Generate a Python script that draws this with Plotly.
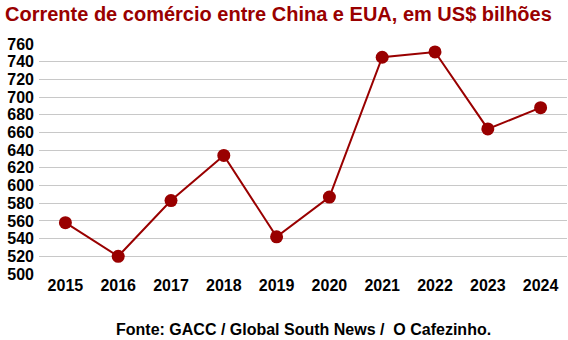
import plotly.graph_objects as go

years = ["2015", "2016", "2017", "2018", "2019", "2020", "2021", "2022", "2023", "2024"]
values = [558, 520, 583, 634, 542, 587, 745, 751, 664, 688]
y_ticks = list(range(500, 761, 20))

red = "#990000"
font = "Liberation Sans, Arial, sans-serif"

fig = go.Figure(go.Scatter(
    x=years, y=values, mode="lines+markers",
    line=dict(color=red, width=2),
    marker=dict(color=red, size=13),
))

fig.update_layout(
    width=568, height=340,
    margin=dict(l=38.5, r=0.5, t=44, b=66),
    paper_bgcolor="white", plot_bgcolor="white",
    showlegend=False,
    title=dict(text="<b>Corrente de comércio entre China e EUA, em US$ bilhões</b>",
               x=5/568, xanchor="left", xref="container", y=1-14/340, yanchor="middle",
               yref="container",
               font=dict(family=font, size=20, color=red)),
    annotations=[dict(text="<b>Fonte: GACC / Global South News /  O Cafezinho.</b>",
                      xref="paper", yref="paper", x=(303-38.5)/529, y=-(329-274)/230,
                      xanchor="center", yanchor="middle", showarrow=False,
                      font=dict(family=font, size=16, color="black"))],
)
fig.update_xaxes(type="category", range=[-0.5, 9.5], showgrid=False, showline=False,
                 ticks="", tickfont=dict(family=font, size=16, color="black", weight="bold"))
fig.update_yaxes(range=[500, 760], tickvals=y_ticks, showgrid=True, gridcolor="#c8c8c8",
                 gridwidth=1, zeroline=False, showline=False, ticks="",
                 tickfont=dict(family=font, size=16, color="black", weight="bold"),
                 ticklabelstandoff=4)

fig.write_html("out.html")
